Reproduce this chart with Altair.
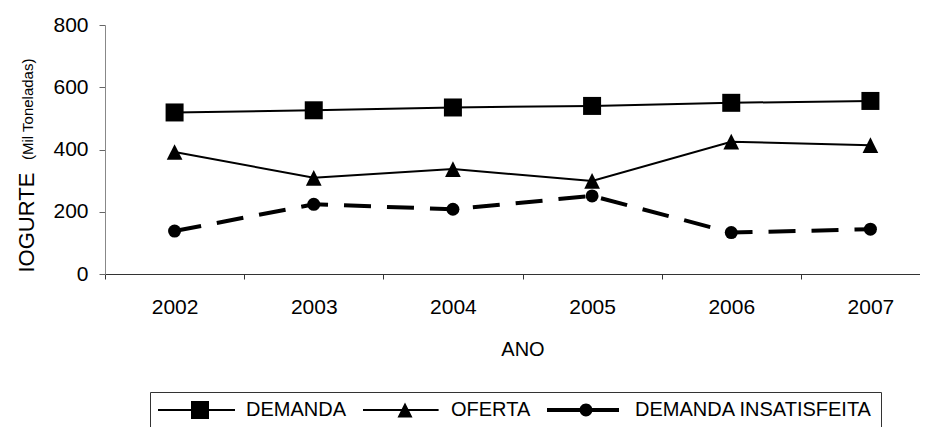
import altair as alt
import pandas as pd

# ---- data ----
years = ["2002", "2003", "2004", "2005", "2006", "2007"]
demanda = [519, 526, 535, 540, 550, 556]
oferta = [392, 309, 337, 299, 425, 414]
insatisfeita = [138, 224, 208, 251, 133, 144]
series_names = ["DEMANDA", "OFERTA", "DEMANDA INSATISFEITA"]
y_ticks = [0, 200, 400, 600, 800]
y_title = "IOGURTE"
y_subtitle = "(Mil Toneladas)"
x_title = "ANO"

rows = []
for name, vals in zip(series_names, [demanda, oferta, insatisfeita]):
    for yr, v in zip(years, vals):
        rows.append({"ano": yr, "serie": name, "valor": v})
df = pd.DataFrame(rows)
sub_df = pd.DataFrame({"t": [y_subtitle]})

FONT = "Liberation Sans"

# marker shapes
TRI = "M0,-1L1,1L-1,1Z"
marker_shapes = ["square", TRI, "circle"]
marker_sizes = [324, 169, 132]

# legend symbols: line + marker drawn as filled paths (unit = sqrt(256)/2 = 8px)
LEG_SQ = "M-1.25,-0.12H8.375V0.12H-1.25Z M2.875,-1.125H5.125V1.125H2.875Z"
LEG_TRI = "M-1.25,-0.12H8.2V0.12H-1.25Z M4,-0.94L4.94,0.94L3.06,0.94Z"
LEG_CIR = ("M-1.25,-0.25H7.75V0.25H-1.25Z "
           "M2.815,0A0.81,0.81 0 1,1 4.435,0A0.81,0.81 0 1,1 2.815,0Z")
legend_shapes = [LEG_SQ, LEG_TRI, LEG_CIR]

x_enc = alt.X(
    "ano:O",
    scale=alt.Scale(type="band", paddingInner=0, paddingOuter=0, range=[0, 835]),
    axis=alt.Axis(
        title=x_title, labelAngle=0, tickBand="extent",
        labelFont=FONT, labelFontSize=21, labelColor="black",
        labelBaseline="alphabetic", labelPadding=34,
        tickSize=5, tickColor="#333", domainColor="#333", grid=False,
        titleFont=FONT, titleFontSize=20, titleFontWeight="normal",
        titleColor="black", titleBaseline="alphabetic", titleY=81,
    ),
)
y_enc = alt.Y(
    "valor:Q",
    scale=alt.Scale(domain=[0, 800]),
    axis=alt.Axis(
        values=y_ticks, title=y_title, grid=False,
        labelFont=FONT, labelFontSize=21, labelColor="black", labelPadding=11,
        tickSize=6, tickColor="#666", domainColor="#888",
        titleFont=FONT, titleFontSize=22, titleFontWeight="normal",
        titleColor="black", titleAngle=270, titleAlign="left",
        titleBaseline="alphabetic", titleX=-72, titleY=247,
    ),
)

base = alt.Chart(df)

solid = base.transform_filter(
    alt.datum.serie != "DEMANDA INSATISFEITA"
).mark_line(color="black", strokeWidth=2).encode(x=x_enc, y=y_enc, detail="serie:N")

dashed = base.transform_filter(
    alt.datum.serie == "DEMANDA INSATISFEITA"
).mark_line(color="black", strokeWidth=4, strokeDash=[27, 16]).encode(x=x_enc, y=y_enc)

points = base.mark_point(filled=True, color="black", opacity=1).encode(
    x=x_enc, y=y_enc,
    shape=alt.Shape("serie:N", scale=alt.Scale(domain=series_names, range=marker_shapes), legend=None),
    size=alt.Size("serie:O", scale=alt.Scale(domain=series_names, range=marker_sizes), legend=None),
)

legend_layer = base.transform_filter("false").mark_point(filled=True, color="black").encode(
    x=x_enc, y=y_enc,
    shape=alt.Shape(
        "serie:N",
        scale=alt.Scale(domain=series_names, range=legend_shapes),
        legend=alt.Legend(
            title=None, orient="none", legendX=45, legendY=367, direction="horizontal",
            symbolSize=256, symbolStrokeWidth=0, symbolOpacity=1,
            labelFont=FONT, labelFontSize=20, labelColor="black", labelOffset=68,
            labelLimit=500, columnPadding=16, padding=8,
            strokeColor="#333", fillColor="white",
        ),
    ),
)

subtitle = alt.Chart(sub_df).mark_text(
    angle=270, align="left", baseline="alphabetic", fontSize=15, font=FONT, color="black"
).encode(x=alt.value(-72), y=alt.value(135), text="t:N")

chart = alt.layer(solid, dashed, points, legend_layer, subtitle).resolve_scale(
    shape="independent"
).properties(
    width=815, height=249,
    autosize=alt.AutoSizeParams(type="none"),
    padding={"left": 97, "top": 17, "right": 0, "bottom": 153},
    background="white",
).configure_view(stroke=None)

chart.save("out.html", embed_options={"renderer": "svg", "actions": False})
